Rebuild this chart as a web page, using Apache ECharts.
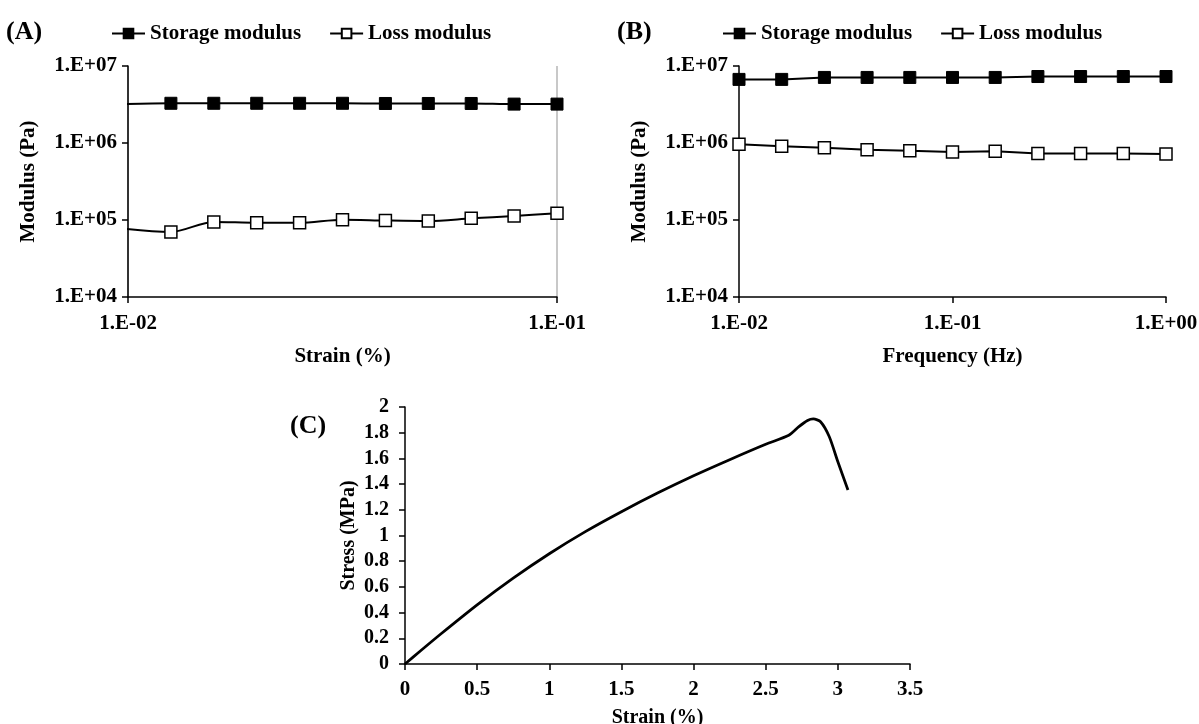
<!DOCTYPE html>
<html>
<head>
<meta charset="utf-8">
<script src="https://cdn.jsdelivr.net/npm/echarts@6/dist/echarts.min.js"></script>
<style>
html,body{margin:0;padding:0;background:#fff;}
#chart{width:1199px;height:724px;}
</style>
</head>
<body>
<div id="chart"></div>
<script>
// ---------- Data ----------
// Panel A: strain sweep (first point lies just left of the axis and is clipped)
const strainA  = [0.00794, 0.012589, 0.015849, 0.019953, 0.025119, 0.031623, 0.039811, 0.050119, 0.063096, 0.079433, 0.1];
const storageA = [3.10e6, 3.28e6, 3.28e6, 3.28e6, 3.28e6, 3.28e6, 3.26e6, 3.26e6, 3.26e6, 3.20e6, 3.20e6];
const lossA    = [8.9e4, 7.0e4, 9.45e4, 9.2e4, 9.2e4, 1.01e5, 9.85e4, 9.7e4, 1.05e5, 1.13e5, 1.22e5];

// Panel B: frequency sweep
const freqB    = [0.01, 0.015849, 0.025119, 0.039811, 0.063096, 0.1, 0.158489, 0.251189, 0.398107, 0.630957, 1];
const storageB = [6.7e6, 6.7e6, 7.1e6, 7.1e6, 7.1e6, 7.1e6, 7.1e6, 7.3e6, 7.3e6, 7.3e6, 7.3e6];
const lossB    = [9.6e5, 9.1e5, 8.7e5, 8.2e5, 7.95e5, 7.65e5, 7.8e5, 7.3e5, 7.3e5, 7.3e5, 7.2e5];

// Panel C: stress-strain curve
const strainC = [0, 0.1, 0.25, 0.5, 0.75, 1.0, 1.25, 1.5, 1.75, 2.0, 2.25, 2.5, 2.66, 2.73, 2.79, 2.83, 2.88, 2.94, 3.0, 3.07];
const stressC = [0, 0.095, 0.235, 0.46, 0.668, 0.858, 1.03, 1.185, 1.33, 1.465, 1.59, 1.71, 1.78, 1.847, 1.895, 1.907, 1.885, 1.77, 1.574, 1.354];

const legendNames = ['Storage modulus', 'Loss modulus'];
const panelLabels = ['(A)', '(B)', '(C)'];
const axisNames = { strainA: 'Strain (%)', freqB: 'Frequency (Hz)', modulus: 'Modulus (Pa)', strainC: 'Strain (%)', stressC: 'Stress (MPa)' };

// ---------- Styles ----------
const FONT = '"Liberation Serif", "Times New Roman", serif';
const txt = (size) => ({ fontFamily: FONT, fontWeight: 'bold', fontSize: size, color: '#000' });
const expFmt = v => {
  const e = Math.round(Math.log10(v));
  return '1.E' + (e < 0 ? '-' : '+') + String(Math.abs(e)).padStart(2, '0');
};
const axisLine = { show: true, onZero: false, lineStyle: { color: '#000', width: 1.5 } };
const axisTick = { show: true, inside: false, length: 6, lineStyle: { color: '#000', width: 1.5 } };

const zip = (xs, ys) => xs.map((x, i) => [x, ys[i]]);

function logX(grid, min, max, name, split) {
  return {
    type: 'log', logBase: 10, gridIndex: grid, min, max,
    axisLine, axisTick,
    axisLabel: Object.assign({ formatter: expFmt, margin: 16 }, txt(21)),
    splitLine: { show: split, lineStyle: { color: '#c8c8c8', width: 2 } },
    minorTick: { show: false }, minorSplitLine: { show: false },
    name, nameLocation: 'middle', nameGap: 49, nameTextStyle: txt(21)
  };
}
function logY(grid) {
  return {
    type: 'log', logBase: 10, gridIndex: grid, min: 1e4, max: 1e7,
    axisLine, axisTick,
    axisLabel: Object.assign({ formatter: expFmt, margin: 11 }, txt(21)),
    splitLine: { show: false },
    name: axisNames.modulus, nameLocation: 'middle', nameGap: 89, nameRotate: 90,
    nameTextStyle: txt(21)
  };
}
const storageStyle = {
  type: 'line', symbol: 'rect', symbolSize: 12,
  itemStyle: { color: '#000', borderColor: '#000', borderWidth: 1 },
  lineStyle: { color: '#000', width: 2 }, clip: true
};
const lossStyle = {
  type: 'line', symbol: 'rect', symbolSize: 12,
  itemStyle: { color: '#fff', borderColor: '#000', borderWidth: 1.5 },
  lineStyle: { color: '#000', width: 2 }, clip: true
};

const chart = echarts.init(document.getElementById('chart'), null, { renderer: 'canvas' });
chart.setOption({
  animation: false,
  backgroundColor: '#fff',
  title: [
    { text: panelLabels[0], left: 6, top: 19, padding: 0, textStyle: txt(26) },
    { text: panelLabels[1], left: 617, top: 19, padding: 0, textStyle: txt(26) },
    { text: panelLabels[2], left: 290, top: 413, padding: 0, textStyle: txt(26) }
  ],
  legend: [
    { data: legendNames, left: 111, top: 23, padding: 0, itemWidth: 33, itemHeight: 12, itemGap: 28, textStyle: txt(21) },
    { data: legendNames, left: 722, top: 23, padding: 0, itemWidth: 33, itemHeight: 12, itemGap: 28, textStyle: txt(21) }
  ],
  grid: [
    { left: 128, top: 66, width: 429, height: 231, outerBoundsMode: 'none', containLabel: false },
    { left: 739, top: 66, width: 427, height: 231, outerBoundsMode: 'none', containLabel: false },
    { left: 405, top: 407, width: 505, height: 257, outerBoundsMode: 'none', containLabel: false }
  ],
  xAxis: [
    logX(0, 0.01, 0.1, axisNames.strainA, true),
    logX(1, 0.01, 1, axisNames.freqB, false),
    {
      type: 'value', gridIndex: 2, min: 0, max: 3.5, interval: 0.5,
      axisLine, axisTick,
      axisLabel: Object.assign({ margin: 15 }, txt(21)),
      splitLine: { show: false },
      name: axisNames.strainC, nameLocation: 'middle', nameGap: 44, nameTextStyle: txt(20)
    }
  ],
  yAxis: [
    logY(0),
    logY(1),
    {
      type: 'value', gridIndex: 2, min: 0, max: 2, interval: 0.2,
      axisLine, axisTick,
      axisLabel: Object.assign({ margin: 16 }, txt(20)),
      splitLine: { show: false },
      name: axisNames.stressC, nameLocation: 'middle', nameGap: 46, nameRotate: 90, nameTextStyle: txt(20)
    }
  ],
  series: [
    Object.assign({ name: legendNames[0], xAxisIndex: 0, yAxisIndex: 0, smooth: 0.3, data: zip(strainA, storageA) }, storageStyle),
    Object.assign({ name: legendNames[1], xAxisIndex: 0, yAxisIndex: 0, smooth: 0.3, data: zip(strainA, lossA) }, lossStyle),
    Object.assign({ name: legendNames[0], xAxisIndex: 1, yAxisIndex: 1, data: zip(freqB, storageB) }, storageStyle),
    Object.assign({ name: legendNames[1], xAxisIndex: 1, yAxisIndex: 1, data: zip(freqB, lossB) }, lossStyle),
    {
      name: 'Stress', type: 'line', xAxisIndex: 2, yAxisIndex: 2, showSymbol: false, symbol: 'none',
      smooth: 0.25, lineStyle: { color: '#000', width: 2.75 },
      data: zip(strainC, stressC)
    }
  ]
});
</script>
</body>
</html>
